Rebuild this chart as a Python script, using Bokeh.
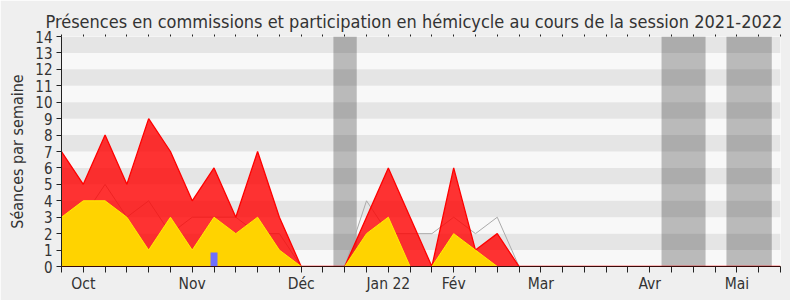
from bokeh.plotting import figure
from bokeh.models import FixedTicker, BoxAnnotation, LinearAxis
from bokeh.embed import file_html
from bokeh.resources import INLINE

# ---- data (weekly values, week 0 = last week of Sept 2021) ----
weeks = list(range(34))
hemicycle = [7, 5, 8, 5, 9, 7, 4, 6, 3, 7, 3, 0, 0, 0, 3, 6, 3, 0, 6, 1, 2, 0,
             0, 0, 0, 0, 0, 0, 0, 0, 0, 0, 0, 0]
commissions = [3, 4, 4, 3, 1, 3, 1, 3, 2, 3, 1, 0, 0, 0, 2, 3, 0, 0, 2, 1, 0, 0,
               0, 0, 0, 0, 0, 0, 0, 0, 0, 0, 0, 0]
median_line = [3, 3, 5, 3, 4, 2, 3, 3, 3, 2, 2, 0, 0, 0, 4, 2, 2, 2, 3, 2, 3, 0,
               0, 0, 0, 0, 0, 0, 0, 0, 0, 0, 0, 0]
question_weeks = [7]
question_values = [0.85]
vacation_start = [12.48, 27.54, 30.52]
vacation_end = [13.55, 29.56, 32.6]
month_weeks = [1, 6, 11, 15, 18, 22, 27, 31]
month_labels = ["Oct", "Nov", "Déc", "Jan 22", "Fév", "Mar", "Avr", "Mai"]

FONT = "DejaVu Sans Condensed"
TXT = "#333333"

p = figure(width=790, height=300, x_range=(0, 33), y_range=(0, 14),
           output_backend="svg", toolbar_location=None,
           title="Présences en commissions et participation en hémicycle au cours de la session 2021-2022",
           min_border_left=61, min_border_right=10, min_border_top=36,
           min_border_bottom=34)
p.background_fill_color = "white"
p.border_fill_color = "#efefef"
p.outline_line_color = None
p.grid.visible = False

p.title.text_font = FONT
p.title.text_font_size = "18px"
p.title.text_font_style = "normal"
p.title.text_color = TXT
p.title.align = "left"
p.title.offset = -16
p.title.standoff = 5

# vacation bands
for s, e in zip(vacation_start, vacation_end):
    p.add_layout(BoxAnnotation(left=s, right=e, fill_color="#c0c0c0", fill_alpha=1,
                               line_color=None, level="underlay"))
# stripes
for k in range(14):
    a = 0.1 if k % 2 == 1 else 0.028
    p.add_layout(BoxAnnotation(bottom=k, top=k + 1, fill_color="black", fill_alpha=a,
                               line_color=None, level="underlay"))

p.line(weeks, median_line, line_color="#aaaaaa", line_width=1)
p.varea(x=weeks, y1=[0] * len(weeks), y2=hemicycle, fill_color="#ff0000", fill_alpha=0.8)
p.line(weeks, hemicycle, line_color="#ff0000", line_width=1.3)
p.varea(x=weeks, y1=[0] * len(weeks), y2=commissions, fill_color="#ffd300", fill_alpha=1)
p.line(weeks, commissions, line_color="#ffee00", line_width=1)
p.vbar(x=question_weeks, top=question_values, width=0.32, fill_color="#6f6fff",
       line_color=None)

# axes
xa = p.xaxis[0]
xa.ticker = FixedTicker(ticks=weeks)
overrides = {w: "" for w in weeks}
for w, lab in zip(month_weeks, month_labels):
    overrides[w] = lab
xa.major_label_overrides = overrides
xa.major_tick_out = 6
xa.major_tick_in = 0
xa.minor_tick_line_color = None
xa.axis_line_color = "#3a0a0a"
xa.major_tick_line_color = "#222222"
xa.major_label_text_font = FONT
xa.major_label_text_font_size = "15.5px"
xa.major_label_text_color = TXT
xa.major_label_standoff = 2

ya = p.yaxis[0]
ya.ticker = FixedTicker(ticks=list(range(15)))
ya.major_tick_out = 5
ya.major_tick_in = 0
ya.minor_tick_line_color = None
ya.axis_line_color = "#222222"
ya.major_tick_line_color = "#222222"
ya.major_label_text_font = FONT
ya.major_label_text_font_size = "15px"
ya.major_label_text_color = TXT
ya.major_label_standoff = 4
ya.axis_label = "Séances par semaine"
ya.axis_label_text_font = FONT
ya.axis_label_text_font_size = "16px"
ya.axis_label_text_font_style = "normal"
ya.axis_label_text_color = TXT
ya.axis_label_standoff = 5

top = LinearAxis(ticker=FixedTicker(ticks=weeks),
                 major_label_overrides={w: "" for w in weeks},
                 axis_line_color=None, major_tick_out=2, major_tick_in=0,
                 minor_tick_line_color=None, major_tick_line_color="#222222",
                 major_label_text_font_size="1px")
p.add_layout(top, "above")

open("out.html", "w").write(file_html(p, INLINE))
